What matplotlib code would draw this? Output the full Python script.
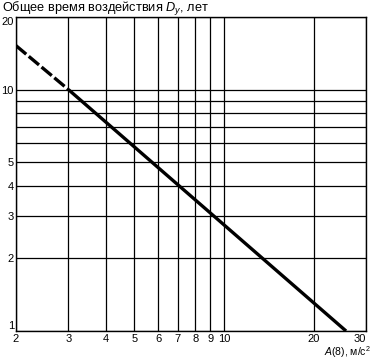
import matplotlib
matplotlib.use("Agg")
import matplotlib.pyplot as plt
from matplotlib.ticker import FixedLocator, NullLocator, NullFormatter

plt.rcParams["font.family"] = ["Liberation Sans", "DejaVu Sans"]
plt.rcParams["mathtext.fontset"] = "custom"
plt.rcParams["mathtext.it"] = "Liberation Sans:italic"
plt.rcParams["mathtext.rm"] = "Liberation Sans"

# dashed (extrapolated) part and solid part of the curve
dash_x = [2, 3]
dash_y = [15.2, 10]
solid_x = [3, 25.7]
solid_y = [10, 1]

x_grid = [2, 3, 4, 5, 6, 7, 8, 9, 10, 20, 30]
x_labels = ["2", "3", "4", "5", "6", "7", "8", "9", "10", "20", "30"]
y_grid = [1, 2, 3, 4, 5, 6, 7, 8, 9, 10, 20]
y_ticks = [1, 2, 3, 4, 5, 10, 20]
y_labels = ["1", "2", "3", "4", "5", "10", "20"]

fig = plt.figure(figsize=(3.72, 3.59), dpi=100)
ax = fig.add_axes([0.043, 0.078, 0.941, 0.875])
ax.set_xscale("log")
ax.set_yscale("log")
ax.set_xlim(2, 30)
ax.set_ylim(1, 20)

for gx in x_grid:
    ax.axvline(gx, color="black", lw=0.9, zorder=1)
for gy in y_grid:
    ax.axhline(gy, color="black", lw=0.9, zorder=1)

ax.plot(dash_x, dash_y, color="black", lw=2.4, ls=(0, (4, 1.0)), zorder=3)
ax.plot(solid_x, solid_y, color="black", lw=2.4, zorder=3, solid_capstyle="butt")

ax.xaxis.set_major_locator(FixedLocator(x_grid))
ax.set_xticklabels(x_labels)
ax.xaxis.set_minor_locator(NullLocator())
ax.xaxis.set_minor_formatter(NullFormatter())
ax.yaxis.set_major_locator(FixedLocator(y_ticks))
ax.set_yticklabels(y_labels)
ax.yaxis.set_minor_locator(NullLocator())
ax.yaxis.set_minor_formatter(NullFormatter())
ax.tick_params(axis="x", length=0, labelsize=8, pad=2)
ax.tick_params(axis="y", length=0, labelsize=8, pad=1.5)

# edge labels sit inside the frame like in the original
ylabs = ax.get_yticklabels()
ylabs[-1].set_va("top")
ylabs[0].set_va("bottom")
ax.get_xticklabels()[-1].set_ha("right")

for s in ax.spines.values():
    s.set_linewidth(1.0)

fig.text(0.005, 0.999, r"Общее время воздействия $D_y$, лет",
         ha="left", va="top", fontsize=9.2)
fig.text(0.998, 0.009, r"$A$(8), м/с$^2$", ha="right", va="baseline", fontsize=7.5)

fig.savefig("out.png", dpi=100)
